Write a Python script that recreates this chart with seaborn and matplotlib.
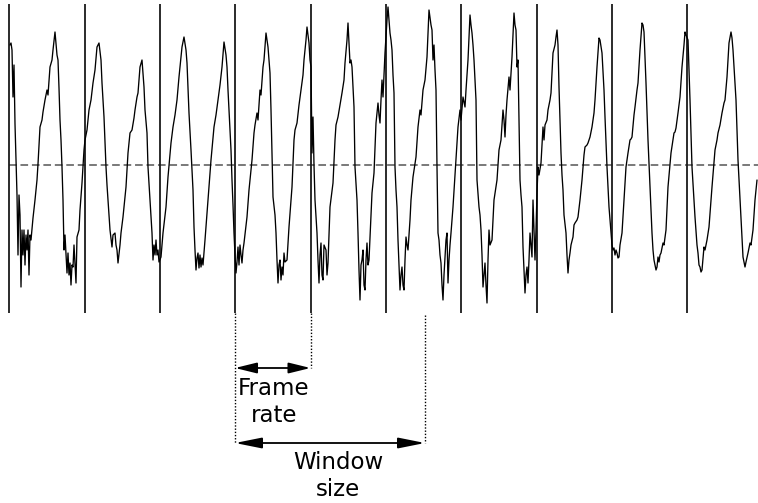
import matplotlib
matplotlib.use("Agg")
import matplotlib.pyplot as plt
import seaborn as sns
import pandas as pd

# ---- data (x: sample position, y: signal level, downward axis) ----
sig_x = [10,11,12,13,14,15,16,17,18,19,20,21,22,23,24,25,26,27,28,29,30,31,33,35,37,38,40,42,43,45,47,48,50,52,53,55,57,58,59,60,61,62,63,64,65,67,68,69,70,71,72,73,74,76,77,79,80,82,84,85,87,89,91,93,95,97,99,101,102,103,104,106,107,108,109,110,112,113,115,116,117,118,120,121,123,126,128,130,
         132,134,135,137,138,140,142,144,145,147,148,150,152,153,154,155,156,157,158,159,161,163,166,168,171,173,175,177,179,182,184,186,187,189,191,193,194,195,196,197,198,199,200,201,202,203,205,208,211,214,216,218,220,222,224,226,227,228,229,231,232,233,234,235,236,237,238,239,240,241,242,243,244,247,249,252,254,
         255,257,258,260,261,263,264,266,268,270,271,272,273,275,276,277,278,279,280,281,282,283,284,285,287,289,292,294,295,297,299,301,303,304,306,307,309,310,311,312,313,314,315,317,318,319,320,321,322,323,324,326,327,328,330,333,335,336,338,340,342,344,345,347,348,350,351,352,354,355,357,358,359,360,361,362,363,364,365,366,367,368,369,372,374,376,378,
         379,380,381,382,383,385,387,388,389,390,391,392,393,394,395,396,397,398,399,400,401,402,403,404,405,406,407,408,410,411,413,416,418,420,421,423,425,427,429,431,432,433,434,435,436,437,438,439,440,441,442,443,444,445,446,447,448,449,450,451,453,456,458,460,461,463,465,466,468,470,471,472,473,474,476,477,479,480,481,482,483,484,485,486,487,488,489,490,492,494,497,499,501,503,
         504,505,506,507,509,510,512,514,515,516,517,518,519,520,521,522,523,524,525,526,527,528,529,530,531,532,533,534,535,536,537,538,539,541,543,544,545,547,548,550,551,553,555,556,557,558,559,561,562,563,564,566,567,568,569,570,571,573,574,575,577,578,580,582,584,585,587,588,590,592,594,595,597,599,600,602,604,605,607,609,611,612,613,614,615,616,617,618,619,620,622,624,626,628,
         630,631,632,634,635,637,638,640,642,643,644,646,648,650,652,653,654,655,656,657,658,659,660,661,663,664,666,668,671,674,675,676,678,680,682,684,685,686,688,690,692,695,697,698,699,700,701,702,703,704,705,707,709,712,715,717,718,720,722,724,725,727,729,731,732,733,736,738,741,743,744,745,746,748,750,751,753,755,757]
sig_y = [45,43,50,97,65,124,160,195,255,195,215,287,230,255,230,265,235,250,230,275,235,240,218,200,180,164,127,120,112,100,90,95,67,60,50,32,55,60,88,120,140,167,200,250,235,273,253,275,263,285,265,267,245,283,237,230,210,183,150,140,130,110,100,83,70,47,43,60,83,100,117,167,185,200,215,230,247,235,233,245,250,263,245,233,217,187,153,133,
         130,118,110,97,93,67,60,87,110,133,167,200,233,260,245,255,240,255,250,262,257,233,207,177,143,127,115,100,77,47,37,50,63,113,150,190,227,250,270,258,253,268,255,267,258,265,240,200,160,127,115,100,85,67,42,55,67,90,110,150,180,205,233,255,273,262,247,265,245,255,263,250,243,217,190,160,133,
         125,113,120,90,95,67,60,33,47,73,110,153,197,215,233,260,283,265,260,280,267,275,253,262,260,227,187,140,130,123,105,90,75,60,40,27,43,60,67,153,117,165,200,233,260,283,255,243,275,280,245,250,275,263,207,183,140,125,117,105,93,80,63,40,23,63,60,67,107,167,200,233,270,300,265,260,250,285,290,260,243,265,260,193,173,123,103,
         115,123,100,80,97,53,20,7,20,33,40,50,75,93,167,190,207,240,265,290,275,267,285,290,260,237,245,250,220,200,177,157,127,110,115,90,80,57,10,25,30,60,45,70,90,167,233,240,255,263,285,300,275,257,240,233,283,260,245,233,207,160,127,110,120,97,107,90,60,15,25,33,45,60,100,180,207,215,230,255,287,275,263,285,303,260,230,245,240,200,180,150,140,110,
         120,137,115,100,77,90,57,13,25,30,67,60,123,180,195,207,247,270,293,275,267,283,260,233,245,257,200,230,260,230,193,167,175,163,127,140,125,120,110,100,93,53,45,37,30,45,87,153,175,190,215,233,255,273,260,253,245,237,225,223,220,217,200,180,155,147,145,143,137,127,113,100,67,38,40,53,90,117,167,207,233,245,250,248,255,250,253,258,257,245,233,200,167,153,
         140,139,137,115,107,90,83,50,23,25,32,83,140,187,233,250,260,265,270,267,257,262,255,253,243,245,230,187,153,133,132,128,113,97,67,45,32,35,40,100,167,217,245,253,265,267,272,270,258,247,250,240,227,187,150,140,133,125,113,103,100,77,43,32,38,50,100,160,217,257,262,267,262,253,243,245,230,200,180]

frame_x = [9, 84.5, 160, 235, 310.5, 386, 461, 536.5, 611.5, 686.5]
frame_top, frame_bottom = 4, 313
baseline_y = 164.5

frame_rate_span = (235, 310.5)
window_span = (235, 425)
frame_rate_arrow_y = 368
window_arrow_y = 443
frame_rate_label = "Frame\nrate"
window_label = "Window\nsize"

df = pd.DataFrame({"x": sig_x, "y": sig_y})

sns.set_style("white")
plt.rcParams["font.family"] = ["DejaVu Sans"]

fig = plt.figure(figsize=(7.58, 5.03), dpi=100)
ax = fig.add_axes([0, 0, 1, 1])

# zero line
ax.axhline(baseline_y, xmin=9/758, xmax=1, color="#555555", lw=1.1, ls=(0, (5, 2.5)), zorder=1)

# frame boundaries
ax.vlines(frame_x, frame_top, frame_bottom, color="#1a1a1a", lw=1.3, zorder=2)

# signal
sns.lineplot(data=df, x="x", y="y", sort=False, estimator=None, color="black", lw=0.95, ax=ax, zorder=3)

# dotted guide lines
dot = (0, (1.0, 1.3))
ax.vlines([frame_rate_span[0]], frame_bottom, window_arrow_y, color="black", lw=1.0, ls=dot)
ax.vlines([frame_rate_span[1]], frame_bottom, frame_rate_arrow_y, color="black", lw=1.0, ls=dot)
ax.vlines([window_span[1]], frame_bottom + 2, window_arrow_y, color="black", lw=1.0, ls=dot)

arrow_small = dict(arrowstyle="<|-|>,head_length=1.1,head_width=0.27", color="black", lw=1.3,
                   shrinkA=0, shrinkB=0, mutation_scale=12)
arrow_big = dict(arrowstyle="<|-|>,head_length=1.35,head_width=0.27", color="black", lw=1.3,
                 shrinkA=0, shrinkB=0, mutation_scale=12)
ax.annotate("", xy=(frame_rate_span[0], frame_rate_arrow_y), xytext=(frame_rate_span[1], frame_rate_arrow_y),
            arrowprops=arrow_small)
ax.annotate("", xy=(window_span[0], window_arrow_y), xytext=(window_span[1], window_arrow_y),
            arrowprops=arrow_big)

ax.text(274, 377, frame_rate_label, ha="center", va="top", fontsize=16.5, linespacing=1.2, color="black")
ax.text(338, 451, window_label, ha="center", va="top", fontsize=16.5, linespacing=1.2, color="black")

ax.set_xlim(0, 758)
ax.set_ylim(503, 0)
ax.set_axis_off()

fig.savefig("out.png", dpi=100)
